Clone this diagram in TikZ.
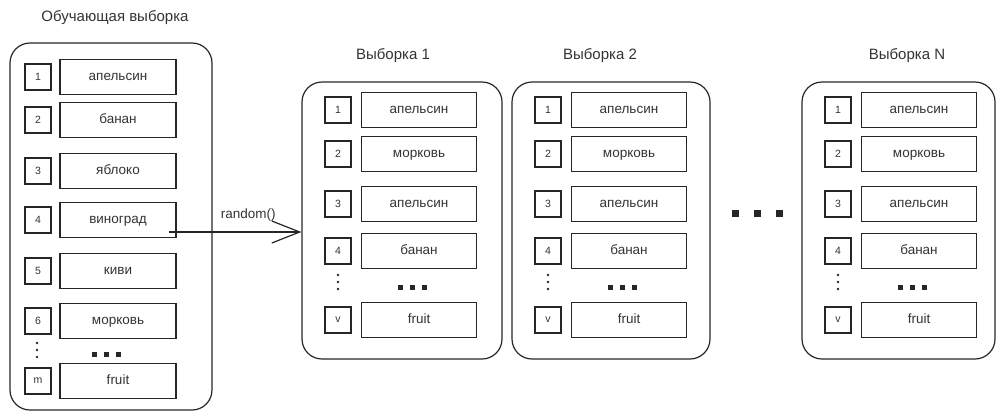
\documentclass[tikz,border=0pt]{standalone}
\usepackage{fontspec}
\setmainfont{Liberation Sans}
\usetikzlibrary{arrows.meta,positioning}
\definecolor{ink}{HTML}{262626}
\definecolor{txt}{HTML}{333333}

\begin{document}
\begin{tikzpicture}[
  x=1pt, y=-1pt, font=\fontsize{13.5}{15}\selectfont,
  panel/.style={draw=ink,line width=1.2pt,rounded corners=20pt,inner sep=0pt},
  idx/.style={draw=ink,line width=1.2pt,minimum width=26pt,minimum height=26pt,inner sep=0pt,
    text=txt,font=\fontsize{10.5}{12}\selectfont},
  item/.style={draw=ink,line width=1.2pt,minimum width=116pt,minimum height=35pt,inner sep=0pt,
    text=txt,text height=10pt,text depth=3pt},
  ttl/.style={text=txt,font=\fontsize{15}{17}\selectfont},
  arr/.style={-{Straight Barb[length=28pt,width=22pt]},ink,line width=1.2pt}
]
\useasboundingbox (0,0) rectangle (996,413);

% training set
\node[ttl] (train) at (115,18) {Обучающая выборка};
\node[panel,minimum width=202pt,minimum height=367pt] (L) at (111,226.5) {};
\foreach \i/\f/\y in {1/апельсин/77, 2/банан/120, 3/яблоко/171, 4/виноград/220,
                      5/киви/271, 6/морковь/321, m/fruit/381}{
  \node[idx] (ln\i) at (38,\y) {\i};
  \node[item] (lt\i) at (118,\y) {\f};
}
\foreach \d in {343,350,357} \fill[ink] (37,\d) circle (1.3pt);
\foreach \d in {92,104,116} \fill[ink] (\d,352) rectangle ++(5,5);

% samples
\foreach \k/\lbl/\x/\w/\tx in {1/Выборка 1/302/200/393, 2/Выборка 2/512/198/600,
                                N/Выборка N/802/193/907}{
  \node[ttl] (h\k) at (\tx,56) {\lbl};
  \node[panel,minimum width={\w pt},minimum height=277pt] (s\k) at (\x+\w/2,220.5) {};
  \foreach \j/\f/\dy in {1/апельсин/28, 2/морковь/72, 3/апельсин/122, 4/банан/169, v/fruit/238}{
    \node[idx] (s\k n\j) at (\x+36,82+\dy) {\j};
    \node[item,minimum width=115pt] (s\k t\j) at (\x+117,82+\dy) {\f};
  }
  \foreach \d in {275,282,289} \fill[ink] (\x+36,\d) circle (1.3pt);
  \foreach \d in {96,108,120} \fill[ink] (\x+\d,285) rectangle ++(5,5);
}

% arrow
\coordinate (a0) at ([shift={(-8,12)}]lt4.east);
\draw[arr] (a0) -- (a0 -| s1.west) node[pos=0.6,above=7pt,text=txt] (rnd) {random()};

% more samples
\foreach \d in {732,754,776} \fill[ink] (\d,210) rectangle ++(7,7);
\end{tikzpicture}
\end{document}
